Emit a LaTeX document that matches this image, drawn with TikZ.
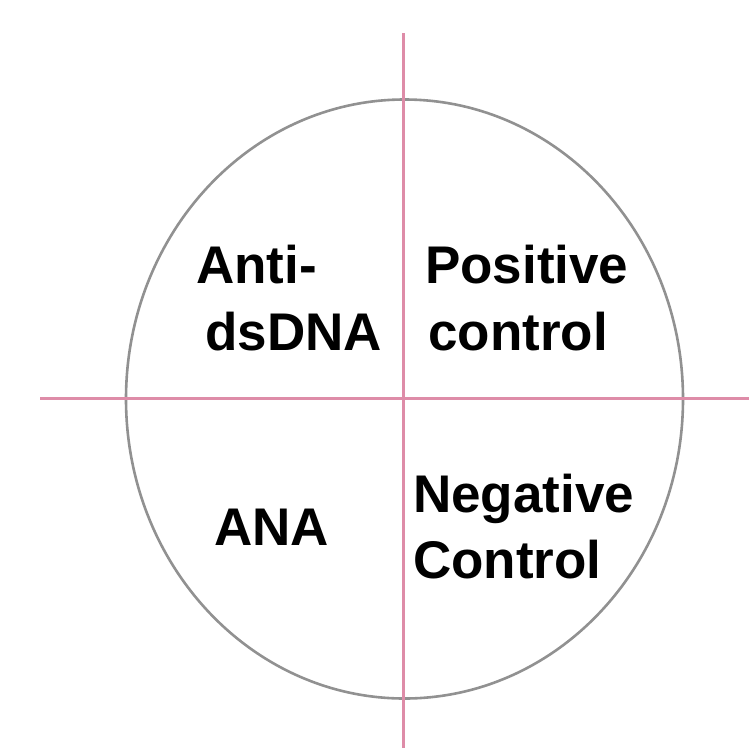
\documentclass[tikz,border=0pt]{standalone}
\usepackage{fontspec}
\setmainfont{Liberation Sans}
\definecolor{axispink}{RGB}{222,140,168}
\definecolor{rimgray}{RGB}{145,145,145}
\begin{document}
\begin{tikzpicture}[x=1pt,y=-1pt,
  axis/.style={draw=axispink,line width=3pt},
  rim/.style={draw=rimgray,line width=2.6pt},
  lbl/.style={anchor=base west,inner sep=0pt,font=\fontsize{53}{66}\selectfont\bfseries,align=left}]
\useasboundingbox (0,0) rectangle (749,748);
\draw[rim] (404.5,399) ellipse [x radius=278.5, y radius=299.5];
\coordinate (vtop) at (403,33);
\coordinate (vbot) at (403,748);
\coordinate (hl) at (40,398);
\coordinate (hr) at (749,398);
\draw[axis] (vtop) -- (vbot);
\draw[axis] (hl) -- (hr);
\node[lbl] (anti) at (196,283) {Anti-};
\node[lbl] (ds) at (205,350) {dsDNA};
\node[lbl] (pos) at (425,283) {Positive};
\node[lbl] (pctl) at (428,350) {control};
\node[lbl] (ana) at (214,545) {ANA};
\node[lbl] (neg) at (413,512) {Negative};
\node[lbl] (nctl) at (413,578) {Control};
\end{tikzpicture}
\end{document}
